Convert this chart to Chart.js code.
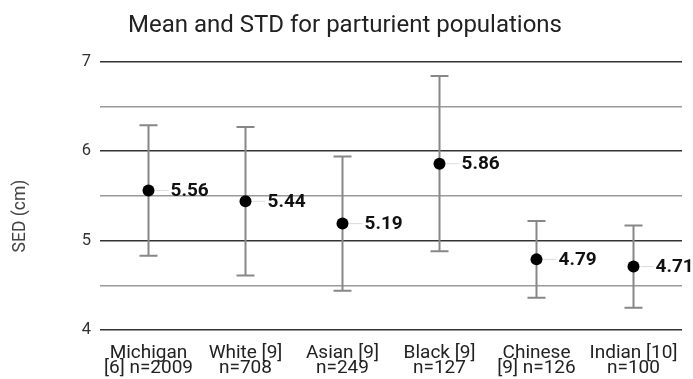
<!DOCTYPE html>
<html>
<head>
<meta charset="utf-8">
<script src="https://cdn.jsdelivr.net/npm/chart.js@4.4.1/dist/chart.umd.min.js"></script>
<style>
  html, body { margin: 0; padding: 0; background: #fff; }
  #wrap { width: 693px; height: 379px; }
</style>
</head>
<body>
<div id="wrap"><canvas id="grafica_sed"></canvas></div>
<script>
const categorias = [
  ["Michigan", "[6] n=2009"],
  ["White [9]", "n=708"],
  ["Asian [9]", "n=249"],
  ["Black [9]", "n=127"],
  ["Chinese", "[9] n=126"],
  ["Indian [10]", "n=100"]
];
const medias = [5.56, 5.44, 5.19, 5.86, 4.79, 4.71];
const desviaciones = [0.73, 0.83, 0.75, 0.98, 0.43, 0.46];
const etiquetasY = [4, 5, 6, 7];

// barras de error (media +/- std)
const pluginErrores = {
  id: 'errores',
  beforeDatasetsDraw(chart) {
    const ctx = chart.ctx;
    const meta = chart.getDatasetMeta(0);
    const y = chart.scales.y;
    ctx.save();
    ctx.strokeStyle = '#878787';
    ctx.lineWidth = 2;
    meta.data.forEach((pt, i) => {
      const top = y.getPixelForValue(medias[i] + desviaciones[i]);
      const bot = y.getPixelForValue(medias[i] - desviaciones[i]);
      ctx.beginPath();
      ctx.moveTo(pt.x, top); ctx.lineTo(pt.x, bot);
      ctx.moveTo(pt.x - 9, top); ctx.lineTo(pt.x + 9, top);
      ctx.moveTo(pt.x - 9, bot); ctx.lineTo(pt.x + 9, bot);
      ctx.stroke();
    });
    ctx.restore();
  },
  afterDatasetsDraw(chart) {
    const ctx = chart.ctx;
    const meta = chart.getDatasetMeta(0);
    ctx.save();
    meta.data.forEach((pt, i) => {
      ctx.strokeStyle = '#dcdcdc';
      ctx.lineWidth = 1;
      ctx.beginPath();
      ctx.moveTo(pt.x + 7, pt.y); ctx.lineTo(pt.x + 20, pt.y);
      ctx.stroke();
      ctx.fillStyle = '#111';
      ctx.font = 'bold 19px Roboto';
      ctx.textAlign = 'left';
      ctx.textBaseline = 'middle';
      ctx.fillText(medias[i].toFixed(2), pt.x + 22, pt.y + 1);
    });
    ctx.restore();
  },
  afterDraw(chart) {
    // titulo del eje y
    const ctx = chart.ctx;
    ctx.save();
    ctx.translate(21, 216);
    ctx.rotate(-Math.PI / 2);
    ctx.fillStyle = '#444';
    ctx.font = '17.5px Roboto';
    ctx.textAlign = 'center';
    ctx.textBaseline = 'middle';
    ctx.fillText('SED (cm)', 0, 0);
    ctx.restore();
  }
};

const ctx = document.getElementById("grafica_sed").getContext("2d");
new Chart(ctx, {
  type: 'line',
  data: {
    labels: categorias,
    datasets: [{
      data: medias,
      showLine: false,
      pointRadius: 6,
      pointHoverRadius: 6,
      pointBackgroundColor: '#000',
      pointBorderColor: '#000',
      pointBorderWidth: 0
    }]
  },
  options: {
    responsive: true,
    maintainAspectRatio: false,
    animation: false,
    layout: { padding: { left: 8, right: 11, top: 0, bottom: 0 } },
    plugins: {
      legend: { display: false },
      tooltip: { enabled: false },
      title: {
        display: true,
        text: 'Mean and STD for parturient populations',
        color: '#222',
        font: { family: 'Roboto', size: 24, weight: 'normal' },
        padding: { top: 12, bottom: 21 }
      }
    },
    scales: {
      x: {
        offset: true,
        grid: { display: false },
        border: { display: false },
        afterFit: (s) => { s.height = 49; },
        ticks: {
          color: '#222',
          font: { family: 'Roboto', size: 19, lineHeight: 0.82 },
          padding: 7,
          maxRotation: 0,
          autoSkip: false
        }
      },
      y: {
        min: 4,
        max: 7,
        border: { display: false },
        afterFit: (s) => { s.width = 92; },
        grid: {
          drawTicks: false,
          lineWidth: 1.5,
          color: (c) => etiquetasY.includes(c.tick.value) ? '#333' : '#9a9a9a'
        },
        ticks: {
          stepSize: 0.5,
          color: '#333',
          font: { family: 'Roboto', size: 16.5 },
          padding: 9,
          callback: (v) => etiquetasY.includes(v) ? v : ''
        }
      }
    }
  },
  plugins: [pluginErrores]
});
</script>
</body>
</html>
